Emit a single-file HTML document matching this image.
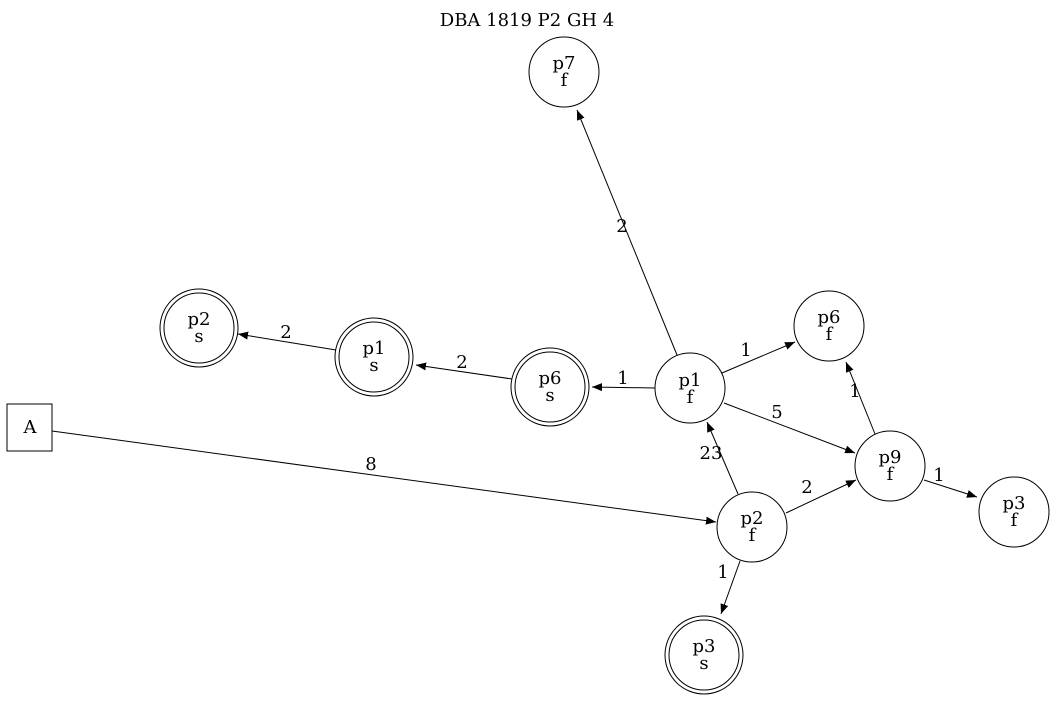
<!DOCTYPE html>
<html><head><meta charset="utf-8"><style>
html,body{margin:0;padding:0;background:#fff}
svg text{font-family:"DejaVu Serif",serif;font-size:18px;fill:#000}
</style></head><body>
<svg width="1055" height="701" viewBox="0 0 1055 701" xmlns="http://www.w3.org/2000/svg">
<defs><marker id="a" markerWidth="10" markerHeight="8" refX="10" refY="4" orient="auto" markerUnits="userSpaceOnUse"><path d="M0,0 L10,4 L0,8 z" fill="#000"/></marker></defs>
<text x="527" y="26" text-anchor="middle">DBA 1819 P2 GH 4</text>
<g fill="none" stroke="#000" stroke-width="1">
<circle cx="564" cy="72" r="35"/>
<circle cx="199" cy="328" r="35"/><circle cx="199" cy="328" r="39"/>
<circle cx="374" cy="357" r="35"/><circle cx="374" cy="357" r="39"/>
<circle cx="550" cy="387" r="35"/><circle cx="550" cy="387" r="39"/>
<circle cx="690" cy="388" r="35"/>
<circle cx="829" cy="326" r="35"/>
<circle cx="890" cy="466" r="35"/>
<circle cx="1014" cy="512" r="35"/>
<circle cx="752" cy="527" r="35"/>
<circle cx="704" cy="655" r="35"/><circle cx="704" cy="655" r="39"/>
<rect x="7" y="404" width="45" height="47"/>
<g marker-end="url(#a)">
<line x1="677" y1="355" x2="577" y2="110"/>
<line x1="655" y1="388" x2="592" y2="387"/>
<line x1="512" y1="379" x2="416" y2="365"/>
<line x1="336" y1="350" x2="238" y2="334"/>
<line x1="722" y1="373" x2="795" y2="342"/>
<line x1="724" y1="403" x2="855" y2="453"/>
<line x1="875" y1="434" x2="846" y2="362"/>
<line x1="924" y1="480" x2="977" y2="497"/>
<line x1="786" y1="513" x2="856" y2="480"/>
<line x1="738" y1="494" x2="707" y2="422"/>
<line x1="740" y1="561" x2="721" y2="614"/>
<line x1="52" y1="431" x2="716" y2="522"/>
</g></g>
<g text-anchor="middle">
<text x="564" y="69">p7</text><text x="564" y="86">f</text>
<text x="199" y="325">p2</text><text x="199" y="342">s</text>
<text x="374" y="354">p1</text><text x="374" y="371">s</text>
<text x="550" y="384">p6</text><text x="550" y="401">s</text>
<text x="690" y="386">p1</text><text x="690" y="403">f</text>
<text x="829" y="323">p6</text><text x="829" y="340">f</text>
<text x="890" y="463">p9</text><text x="890" y="480">f</text>
<text x="1014" y="509">p3</text><text x="1014" y="526">f</text>
<text x="752" y="524">p2</text><text x="752" y="541">f</text>
<text x="704" y="652">p3</text><text x="704" y="669">s</text>
<text x="30" y="433">A</text>
<text x="622" y="232">2</text>
<text x="623" y="384">1</text>
<text x="462" y="368">2</text>
<text x="286" y="338">2</text>
<text x="746" y="356">1</text>
<text x="777" y="418">5</text>
<text x="855" y="397">1</text>
<text x="939" y="481">1</text>
<text x="807" y="493">2</text>
<text x="711" y="459">23</text>
<text x="723" y="578">1</text>
<text x="371" y="470">8</text>
</g>
</svg>
</body></html>
